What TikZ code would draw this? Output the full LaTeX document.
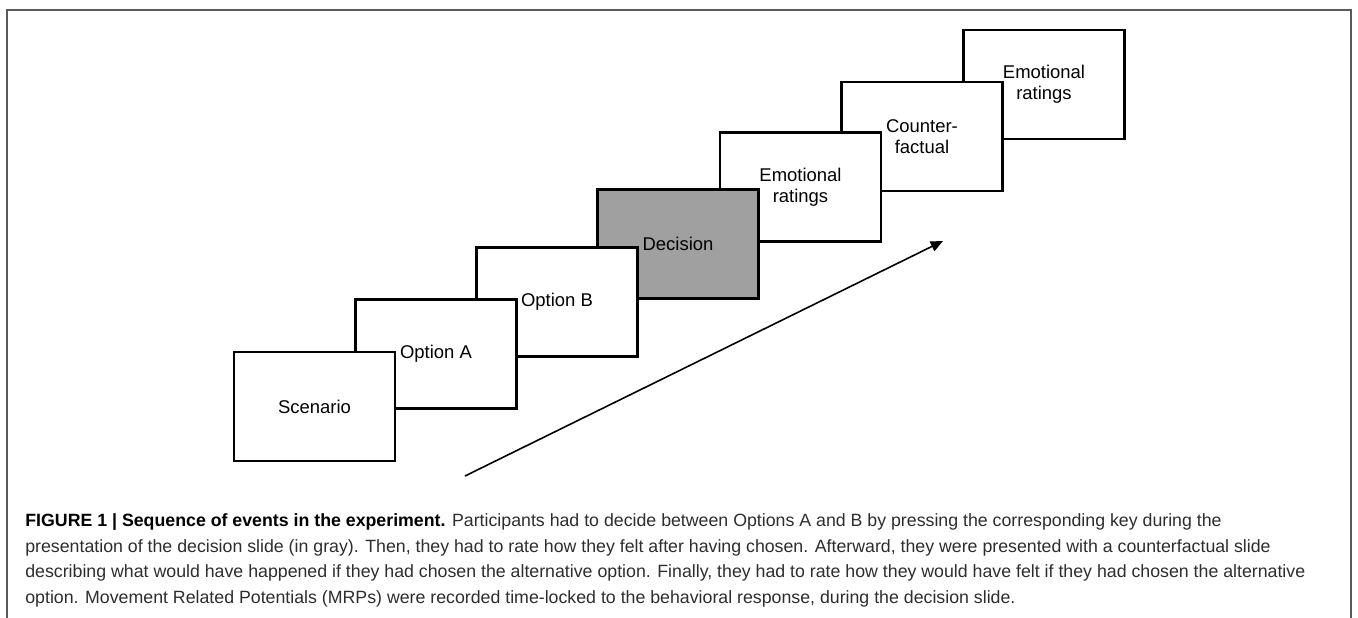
\documentclass[tikz,border=0pt]{standalone}
\usepackage{fontspec}
\setmainfont{Liberation Sans}
\usetikzlibrary{arrows.meta,positioning}
\definecolor{decgray}{RGB}{160,160,160}
\definecolor{framegray}{RGB}{90,90,90}
\definecolor{captext}{RGB}{45,45,45}

\begin{document}
\begin{tikzpicture}[
    slide/.style={draw, line width=1.4pt, fill=white, minimum width=3.22cm, minimum height=2.18cm, align=center, font=\fontsize{10.5}{12}\selectfont, inner sep=0pt},
    arr/.style={-{Triangle[length=7pt,width=6pt]}, line width=0.9pt},
    captxt/.style={anchor=base west, inner sep=0pt, font=\fontsize{10.1}{12}\selectfont, text=captext},
    frm/.style={draw=framegray, line width=1.2pt}
]
\useasboundingbox (0,0) rectangle (27.16,12.36);
\draw[frm] (0.14,0) -- (0.14,12.16) -- (27.02,12.16) -- (27.02,0);

% slides, back to front
\node[slide] (emo2) at (20.88,10.67) {Emotional\\ratings};
\node[slide] (cf) at (18.44,9.63) {Counter-\\factual};
\node[slide] (emo1) at (16.01,8.62) {Emotional\\ratings};
\node[slide, fill=decgray] (dec) at (13.56,7.48) {Decision};
\node[slide] (optb) at (11.14,6.32) {Option B};
\node[slide] (opta) at (8.72,5.28) {Option A};
\node[slide] (scen) at (6.29,4.23) {Scenario};

% time arrow
\coordinate (tstart) at (9.30,2.84);
\coordinate (tend) at (18.86,7.54);
\draw[arr] (tstart) -- (tend);

% caption
\node[captxt] (cap1) at (0.50,1.82) {\textcolor{black}{\bfseries FIGURE 1 | Sequence of events in the experiment.} Participants had to decide between Options A and B by pressing the corresponding key during the};
\node[captxt] (cap2) at (0.50,1.31) {presentation of the decision slide (in gray). Then, they had to rate how they felt after having chosen. Afterward, they were presented with a counterfactual slide};
\node[captxt] (cap3) at (0.50,0.80) {describing what would have happened if they had chosen the alternative option. Finally, they had to rate how they would have felt if they had chosen the alternative};
\node[captxt] (cap4) at (0.50,0.29) {option. Movement Related Potentials (MRPs) were recorded time-locked to the behavioral response, during the decision slide.};
\end{tikzpicture}
\end{document}
